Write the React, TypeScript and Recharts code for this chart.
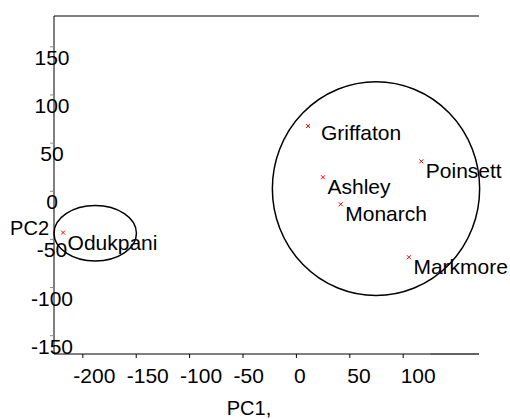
import React from 'react';
import { ScatterChart, Scatter, XAxis, YAxis, ReferenceArea, ReferenceLine } from 'recharts';

// PCA scores
const cultivars = ['Griffaton', 'Poinsett', 'Ashley', 'Monarch', 'Markmore', 'Odukpani'];
const pc1 = [10.9, 117, 24.9, 41.5, 105.4, -218.5];
const pc2 = [67.7, 31.1, 14.5, -13.5, -68.5, -42.9];

const xTicks = [-200, -150, -100, -50, 0, 50, 100];
const yTicks = [-150, -100, -50, 0, 50, 100, 150];
const xDomain = [-227, 171];
const yDomain = [-169, 182];

// cluster outlines: [x1, x2, y1, y2] in PC units
const clusterLeft = [-227, -149.8, -72.3, -14.9];
const clusterRight = [-22.5, 171.6, -108.3, 113.7];

const FONT = '"Liberation Sans", Arial, sans-serif';

const data = cultivars.map((name, i) => ({ name, pc1: pc1[i], pc2: pc2[i] }));

// label offset tweaks
const labelOffset: { [k: string]: [number, number] } = {
  Griffaton: [13, 14],
};

const renderPoint = (props: any) => {
  const { cx, cy, payload } = props;
  const [dx, dy] = labelOffset[payload.name] || [4.5, 17];
  return (
    <g>
      <path
        d={`M${cx - 2},${cy - 2}L${cx + 2},${cy + 2}M${cx - 2},${cy + 2}L${cx + 2},${cy - 2}`}
        stroke="#ff0000"
        strokeWidth={1}
      />
      <text x={cx + dx} y={cy + dy} fontSize={21} fontFamily={FONT} fill="#000">
        {payload.name}
      </text>
    </g>
  );
};

const XTick = (props: any) => {
  const { x, y, payload } = props;
  const neg = payload.value < 0;
  return (
    <text x={x - 2.5 - (neg ? 7 : 0)} y={y + 23} fontSize={21} fontFamily={FONT} fill="#000" textAnchor="start">
      {payload.value}
    </text>
  );
};

const YTick = (props: any) => {
  const { x, y, payload } = props;
  return (
    <text x={x + 4} y={y + 18} fontSize={21} fontFamily={FONT} fill="#000" textAnchor="middle">
      {payload.value}
    </text>
  );
};

const ellipseShape = (p: any) => (
  <ellipse
    cx={p.x + p.width / 2}
    cy={p.y + p.height / 2}
    rx={Math.abs(p.width / 2)}
    ry={Math.abs(p.height / 2)}
    fill="none"
    stroke="#000"
    strokeWidth={1.5}
  />
);

export default function App() {
  return (
    <div style={{ position: 'absolute', left: 0, top: 0, background: '#fff' }}>
      <ScatterChart width={510} height={419} margin={{ top: 16, right: 31, bottom: 35, left: 14 }}>
        <XAxis
          type="number"
          dataKey="pc1"
          domain={xDomain}
          ticks={xTicks}
          interval={0}
          height={30}
          tickSize={4}
          axisLine={{ stroke: '#000' }}
          tickLine={{ stroke: '#000' }}
          tick={<XTick />}
          label={{
            content: (lp: any) => {
              const vb = lp.viewBox;
              return (
                <text x={vb.x + 195} y={vb.y + 61} fontSize={20} fontFamily={FONT} fill="#000" textAnchor="middle">
                  PC1,
                </text>
              );
            },
          }}
        />
        <YAxis
          type="number"
          dataKey="pc2"
          domain={yDomain}
          ticks={yTicks}
          interval={0}
          width={40}
          tickSize={4}
          axisLine={{ stroke: '#000' }}
          tickLine={{ stroke: '#888' }}
          tick={<YTick />}
          label={{
            content: (lp: any) => {
              const vb = lp.viewBox;
              return (
                <text x={vb.x + vb.width - 5} y={vb.y + 219} fontSize={20} fontFamily={FONT} fill="#000" textAnchor="end">
                  PC2
                </text>
              );
            },
          }}
        />
        <ReferenceLine y={yDomain[1]} stroke="#000" ifOverflow="visible" />
        <ReferenceLine
          segment={[{ x: 125.7, y: yDomain[0] }, { x: xDomain[1], y: yDomain[0] }]}
          stroke="#888"
          ifOverflow="visible"
        />
        <ReferenceArea
          x1={clusterLeft[0]}
          x2={clusterLeft[1]}
          y1={clusterLeft[2]}
          y2={clusterLeft[3]}
          ifOverflow="visible"
          shape={ellipseShape}
        />
        <ReferenceArea
          x1={clusterRight[0]}
          x2={clusterRight[1]}
          y1={clusterRight[2]}
          y2={clusterRight[3]}
          ifOverflow="visible"
          shape={ellipseShape}
        />
        <Scatter data={data} shape={renderPoint} isAnimationActive={false} />
      </ScatterChart>
    </div>
  );
}
